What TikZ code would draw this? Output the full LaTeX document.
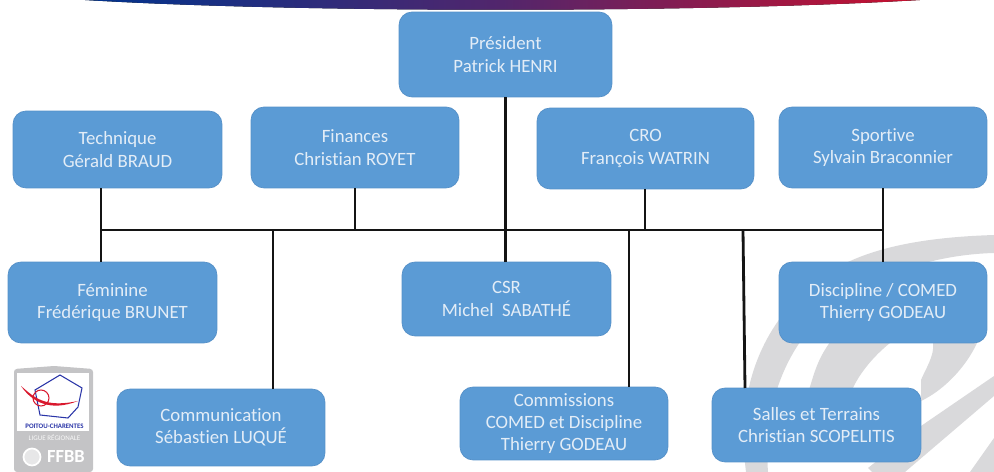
\documentclass[tikz,border=0pt]{standalone}
\usepackage{fontspec}
\setmainfont[Ligatures=CommonOff]{Carlito}
\definecolor{boxblue}{HTML}{5B9BD5}
\definecolor{boxedge}{HTML}{5590C8}
\definecolor{boxtext}{HTML}{E3EDF7}
\definecolor{swirl}{HTML}{D9D9DB}
\definecolor{shield}{HTML}{C4C4C6}
\definecolor{liguered}{HTML}{D9182D}
\definecolor{ligueblue}{HTML}{2A35A8}
\definecolor{bandblue}{HTML}{00338D}
\definecolor{bandmid}{HTML}{52266C}
\definecolor{bandred}{HTML}{C8102E}
\tikzset{
  box/.style={rectangle, rounded corners=0.26cm, draw=boxedge, line width=0.4pt, fill=boxblue, text=boxtext, align=center, font=\fontsize{10.7}{12.7}\selectfont, inner sep=0pt},
  link/.style={draw=black!92, line width=1.6pt},
  logotext/.style={inner sep=0pt, font=\bfseries\fontsize{3.9}{4}\selectfont}
}
\begin{document}
\begin{tikzpicture}[x=0.02cm, y=-0.02cm]
  \useasboundingbox (0, 0) rectangle (994, 472);
  % Background
  \fill[left color=bandblue, right color=bandred, middle color=bandmid] (85, 0) .. controls (300, 13) and (700, 13) .. (920, 0) -- cycle;
  \fill[swirl] (994, 235) .. controls (900, 238) and (840, 255) .. (800, 295) .. controls (765, 330) and (735, 385) .. (746, 472) -- (768, 472) .. controls (765, 430) and (772, 385) .. (798, 345) .. controls (840, 285) and (920, 255) .. (994, 253) -- cycle;
  \fill[swirl] (809, 390) .. controls (815, 370) and (818, 360) .. (828, 345) .. controls (850, 310) and (930, 285) .. (985, 300) .. controls (990, 340) and (955, 385) .. (921, 401) -- (921, 380) .. controls (925, 370) and (935, 355) .. (933, 343) -- (890, 343) .. controls (875, 355) and (860, 372) .. (852, 390) -- cycle;
  \fill[swirl] (994, 376) -- (921, 426) -- (868, 468) -- (872, 472) -- (905, 472) -- (994, 396) -- cycle;
  \fill[swirl] (994, 438) -- (970, 472) -- (994, 472) -- cycle;
  % Logo
  \fill[shield, rounded corners=0.06cm] (14, 369) -- (54, 366) -- (93, 369) -- (93, 472) -- (14, 472) -- cycle;
  \fill[white] (17, 373) rectangle (89, 431);
  \draw[ligueblue, line width=0.6pt] (60, 375) -- (82, 388) -- (78, 407) -- (68, 418) -- (40, 415) -- (35, 390) -- cycle;
  \draw[liguered, line width=0.6pt] (41, 398) circle (8);
  \fill[liguered] (21, 386) .. controls (35, 398) and (45, 408) .. (78, 401) .. controls (50, 412) and (32, 402) .. cycle;
  \node (logo-region) [logotext, text=ligueblue] at (54.5, 426) {POITOU-CHARENTES};
  \node (logo-ligue) [logotext, text=white!88!shield, font=\fontsize{4}{4}\selectfont] at (54.5, 438) {LIGUE RÉGIONALE};
  \draw[white, line width=1pt, fill=white!60!shield] (32, 457) circle (8.5);
  \node (logo-ffbb) [logotext, text=white, font=\bfseries\fontsize{10.5}{10}\selectfont] at (66, 457) {FFBB};
  % Nodes
  \node (president) [box, minimum width=4.26cm, minimum height=1.7cm] at (505.5, 54.5) {Président\\Patrick HENRI};
  \node (technique) [box, minimum width=4.18cm, minimum height=1.54cm] at (117.5, 149.5) {Technique\\Gérald BRAUD};
  \node (finances) [box, minimum width=4.16cm, minimum height=1.62cm] at (355, 147.5) {Finances\\Christian ROYET};
  \node (cro) [box, minimum width=4.34cm, minimum height=1.62cm] at (645.5, 148.5) {CRO\\François WATRIN};
  \node (sportive) [box, minimum width=4.16cm, minimum height=1.62cm] at (883, 147.5) {Sportive\\Sylvain Braconnier};
  \node (feminine) [box, minimum width=4.18cm, minimum height=1.62cm] at (112.5, 302.5) {Féminine\\Frédérique BRUNET};
  \node (csr) [box, minimum width=4.18cm, minimum height=1.48cm] at (506.5, 299) {CSR\\Michel\ \ SABATHÉ};
  \node (discipline) [box, minimum width=4.16cm, minimum height=1.62cm] at (883, 302.5) {Discipline / COMED\\Thierry GODEAU};
  \node (communication) [box, minimum width=4.16cm, minimum height=1.54cm] at (221, 427.5) {Communication\\Sébastien LUQUÉ};
  \node (commissions) [box, minimum width=4.16cm, minimum height=1.46cm] at (564, 423.5) {Commissions\\COMED et Discipline\\Thierry GODEAU};
  \node (salles) [box, minimum width=4.18cm, minimum height=1.48cm] at (816.5, 425) {Salles et Terrains\\Christian SCOPELITIS};
  % Bus
  \coordinate (bus-technique) at (101, 230);
  \coordinate (bus-communication) at (273, 230);
  \coordinate (bus-finances) at (355, 230);
  \coordinate (bus-president) at (505.5, 230);
  \coordinate (bus-commissions) at (629, 230);
  \coordinate (bus-cro) at (645, 230);
  \coordinate (bus-salles) at (743, 230);
  \coordinate (bus-sportive) at (883, 230);
  \coordinate (salles-top) at (745, 388);
  % Lines
  \draw[link] (bus-technique) -- (bus-sportive);
  \draw[link] (president.south -| bus-president) -- (csr.north -| bus-president);
  \draw[link] (technique.south -| bus-technique) -- (feminine.north -| bus-technique);
  \draw[link] (finances.south -| bus-finances) -- (bus-finances);
  \draw[link] (cro.south -| bus-cro) -- (bus-cro);
  \draw[link] (sportive.south -| bus-sportive) -- (discipline.north -| bus-sportive);
  \draw[link] (bus-communication) -- (communication.north -| bus-communication);
  \draw[link] (bus-commissions) -- (commissions.north -| bus-commissions);
  \draw[link] (bus-salles) -- (salles-top);
\end{tikzpicture}
\end{document}
